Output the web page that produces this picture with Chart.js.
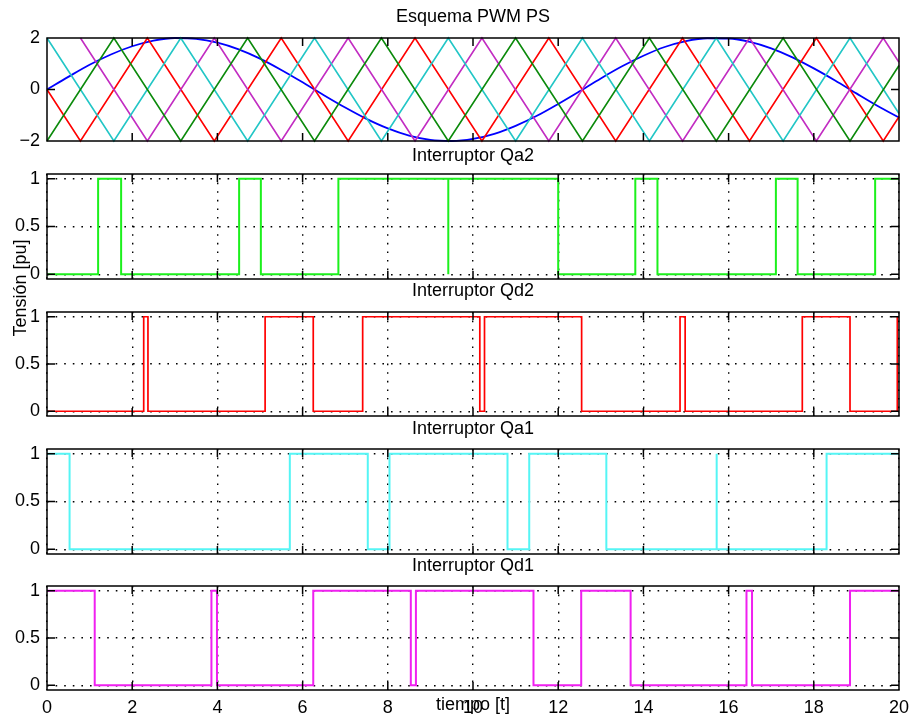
<!DOCTYPE html>
<html><head><meta charset="utf-8">
<script src="https://cdn.jsdelivr.net/npm/chart.js@4/dist/chart.umd.min.js"></script>
<style>
html,body{margin:0;padding:0;background:#fff;}
#wrap{position:relative;width:909px;height:719px;overflow:hidden;background:#fff;}
#wrap canvas{position:absolute;left:0;top:0;}
</style></head><body>
<div id="wrap">
<canvas id="c0" width="909" height="719"></canvas>
<canvas id="c1" width="909" height="719"></canvas>
<canvas id="c2" width="909" height="719"></canvas>
<canvas id="c3" width="909" height="719"></canvas>
<canvas id="c4" width="909" height="719"></canvas>
</div>
<script>
// ---------- data ----------
const xTicks = [0, 2, 4, 6, 8, 10, 12, 14, 16, 18, 20];
const xTickLabels = ['0', '2', '4', '6', '8', '10', '12', '14', '16', '18', '20'];
const topYTicks = [-2, 0, 2];
const topYTickLabels = ['\u22122', '0', '2'];
const pulseYTicks = [0, 0.5, 1];
const pulseYTickLabels = ['0', '0.5', '1'];

const titles = ['Esquema PWM PS', 'Interruptor Qa2', 'Interruptor Qd2', 'Interruptor Qa1', 'Interruptor Qd1'];
const xAxisTitle = 'tiempo [t]';
const yAxisTitle = 'Tensi\u00f3n [pu]';

// modulating signal (blue)
const sineX = [0,0.5,1,1.5,2,2.5,3,3.5,4,4.5,5,5.5,6,6.5,7,7.5,8,8.5,9,9.5,10,10.5,11,11.5,12,12.5,13,13.5,14,14.5,15,15.5,16,16.5,17,17.5,18,18.5,19,19.5,20];
const sineY = [0,0.49,0.96,1.36,1.68,1.90,2.00,1.97,1.82,1.56,1.20,0.76,0.28,-0.22,-0.70,-1.14,-1.51,-1.79,-1.96,-2.00,-1.92,-1.72,-1.41,-1.02,-0.56,-0.07,0.43,0.90,1.31,1.65,1.88,1.99,1.98,1.85,1.60,1.25,0.82,0.35,-0.15,-0.64,-1.09];

// carriers (vertices)
const greenX = [0,1.57,3.14,4.71,6.28,7.85,9.42,11.0,12.57,14.14,15.71,17.28,18.85,20];
const greenY = [-2,2,-2,2,-2,2,-2,2,-2,2,-2,2,-2,0.93];
const cyanX  = [0,1.57,3.14,4.71,6.28,7.85,9.42,11.0,12.57,14.14,15.71,17.28,18.85,20];
const cyanY  = [2,-2,2,-2,2,-2,2,-2,2,-2,2,-2,2,-0.93];
const redX   = [0,0.785,2.356,3.927,5.498,7.069,8.639,10.21,11.78,13.35,14.92,16.49,18.06,19.63,20];
const redY   = [0,-2,2,-2,2,-2,2,-2,2,-2,2,-2,2,-2,-1.06];
const magX   = [0.785,2.356,3.927,5.498,7.069,8.639,10.21,11.78,13.35,14.92,16.49,18.06,19.63,20];
const magY   = [2,-2,2,-2,2,-2,2,-2,2,-2,2,-2,2,1.06];

// switching signals: initial level and switching instants
const qa2Start = 0;
const qa2Edges = [1.20,1.74,4.51,5.02,6.84,9.42,9.42,12.0,13.81,14.33,17.11,17.62,19.44];
const qd2Start = 0;
const qd2Edges = [2.27,2.37,5.12,6.25,7.41,10.16,10.27,12.55,14.86,14.98,17.73,18.85,19.96];
const qa1Start = 1;
const qa1Edges = [0.53,5.70,7.53,8.04,10.81,11.32,13.13,15.72,15.72,18.30];
const qd1Start = 1;
const qd1Edges = [1.12,3.86,3.99,6.25,8.54,8.66,11.42,12.54,13.70,16.42,16.55,18.85];

// ---------- layout / style ----------
const FONT = {family: '"Liberation Sans", Arial, Helvetica, sans-serif', size: 18};
const LINE_H = FONT.size * 1.2;
const panels = [
  {top: 38,  bottom: 141, titleY: 17.5},
  {top: 174, bottom: 279, titleY: 156},
  {top: 312, bottom: 416, titleY: 291.5},
  {top: 449, bottom: 554, titleY: 429},
  {top: 586, bottom: 690, titleY: 566}
];
const PLOT_LEFT = 47, PLOT_RIGHT = 899, W = 909, H = 719;

function pts(xs, ys) { return xs.map((x, i) => ({x: x, y: ys[i]})); }
function pulse(start, edges) {
  let cur = start; const out = [{x: 0, y: cur}];
  edges.forEach(e => { out.push({x: e, y: cur}); cur = 1 - cur; out.push({x: e, y: cur}); });
  out.push({x: 20, y: cur});
  return out;
}

const framePlugin = {
  id: 'frame',
  afterDatasetsDraw(chart, args, opts) {
    const {ctx, chartArea: a} = chart;
    const x = chart.scales.x, y = chart.scales.y;
    ctx.save();
    ctx.strokeStyle = '#000';
    ctx.lineWidth = 1.5;
    ctx.strokeRect(a.left, a.top, a.right - a.left, a.bottom - a.top);
    const L = opts.tickLen || 8;
    ctx.beginPath();
    x.ticks.forEach(t => {
      const px = x.getPixelForValue(t.value);
      if (px <= a.left + 1 || px >= a.right - 1) return;
      ctx.moveTo(px, a.bottom); ctx.lineTo(px, a.bottom - L);
      ctx.moveTo(px, a.top); ctx.lineTo(px, a.top + L);
    });
    y.ticks.forEach(t => {
      const py = y.getPixelForValue(t.value);
      if (py <= a.top + 1 || py >= a.bottom - 1) return;
      ctx.moveTo(a.left, py); ctx.lineTo(a.left + L, py);
      ctx.moveTo(a.right, py); ctx.lineTo(a.right - L, py);
    });
    ctx.stroke();
    if (opts.yTitle) {
      ctx.fillStyle = '#000';
      ctx.font = FONT.size + 'px ' + FONT.family;
      ctx.textAlign = 'center';
      ctx.textBaseline = 'middle';
      ctx.translate(opts.yTitle.x, opts.yTitle.y);
      ctx.rotate(-Math.PI / 2);
      ctx.fillText(opts.yTitle.text, 0, 0);
    }
    ctx.restore();
  }
};

function makeChart(idx, datasets, yMin, yMax, yTicks, yLabels, showGrid, isLast) {
  const p = panels[idx];
  const T = p.titleY - LINE_H / 2;
  const titlePadBottom = p.top - T - LINE_H;
  const xH = isLast ? (H - p.bottom) : 0;
  const padBottom = H - p.bottom - xH;
  return new Chart(document.getElementById('c' + idx), {
    type: 'line',
    data: {datasets: datasets},
    plugins: [framePlugin],
    options: {
      responsive: false, animation: false, devicePixelRatio: 1, events: [],
      layout: {autoPadding: false, padding: {left: 0, right: W - PLOT_RIGHT, top: T, bottom: padBottom}},
      elements: {point: {radius: 0}, line: {tension: 0}},
      plugins: {
        legend: {display: false}, tooltip: {enabled: false},
        title: {display: true, text: titles[idx], fullSize: false, color: '#000',
                font: {family: FONT.family, size: FONT.size, weight: 'normal'},
                padding: {top: 0, bottom: titlePadBottom}},
        frame: {tickLen: 8, yTitle: idx === 4 ? {text: yAxisTitle, x: 21, y: 288} : null}
      },
      scales: {
        x: {
          type: 'linear', min: 0, max: 20,
          afterBuildTicks: s => { s.ticks = xTicks.map(v => ({value: v})); },
          afterFit: s => { s.height = xH; s.paddingLeft = 0; s.paddingRight = 0; },
          ticks: {display: isLast, color: '#000', font: FONT, padding: 7, maxRotation: 0, autoSkip: false,
                  callback: v => xTickLabels[xTicks.indexOf(v)]},
          grid: {display: showGrid, color: '#000', lineWidth: 1.4, drawTicks: false},
          border: {display: false, dash: [1.6, 7]},
          title: {display: isLast, text: xAxisTitle, color: '#000', font: FONT, padding: {top: 0, bottom: 3}}
        },
        y: {
          type: 'linear', min: yMin, max: yMax,
          afterBuildTicks: s => { s.ticks = yTicks.map(v => ({value: v})); },
          afterFit: s => { s.width = PLOT_LEFT; },
          ticks: {color: '#000', font: FONT, padding: 7, callback: v => yLabels[yTicks.indexOf(v)]},
          grid: {display: showGrid, color: '#000', lineWidth: 1.4, drawTicks: false},
          border: {display: false, dash: [1.6, 7]}
        }
      }
    }
  });
}

function ds(data, color, width, extra) {
  return Object.assign({data: data, borderColor: color, borderWidth: width, fill: false, clip: 3, pointRadius: 0}, extra || {});
}

makeChart(0, [
  ds(pts(greenX, greenY), '#0b8a0b', 1.6),
  ds(pts(cyanX, cyanY), '#22c6c6', 1.6),
  ds(pts(magX, magY), '#c22cc2', 1.6),
  ds(pts(redX, redY), '#ff0000', 1.6),
  ds(pts(sineX, sineY), '#0000ff', 1.8, {cubicInterpolationMode: 'monotone'})
], -2, 2, topYTicks, topYTickLabels, false, false);

makeChart(1, [ds(pulse(qa2Start, qa2Edges), '#1cf01c', 2)], -0.05, 1.05, pulseYTicks, pulseYTickLabels, true, false);
makeChart(2, [ds(pulse(qd2Start, qd2Edges), '#ff0000', 1.7)], -0.05, 1.05, pulseYTicks, pulseYTickLabels, true, false);
makeChart(3, [ds(pulse(qa1Start, qa1Edges), '#55f5f5', 2)], -0.05, 1.05, pulseYTicks, pulseYTickLabels, true, false);
makeChart(4, [ds(pulse(qd1Start, qd1Edges), '#f020f0', 2)], -0.05, 1.05, pulseYTicks, pulseYTickLabels, true, true);
</script>
</body></html>
